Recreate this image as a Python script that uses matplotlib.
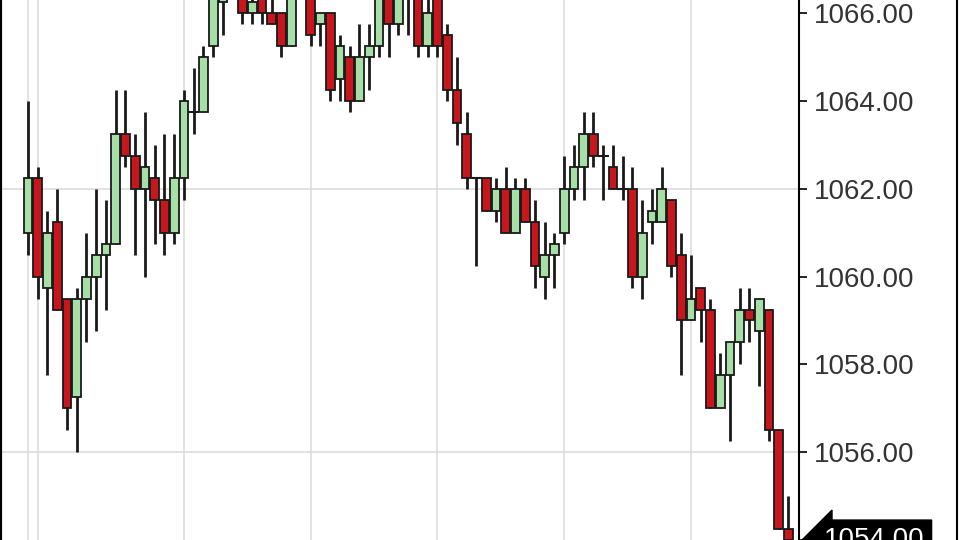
import matplotlib
matplotlib.use("Agg")
from matplotlib import pyplot as plt
from matplotlib.lines import Line2D
from matplotlib.patches import Rectangle

plt.rcParams['font.family'] = ['Liberation Sans', 'DejaVu Sans']

# OHLC values (one candle per bar, left to right)
opens = [1061.0, 1062.25, 1059.75, 1061.25, 1059.5, 1057.25, 1059.5, 1060.0, 1060.5, 1060.75,
         1063.25, 1062.75, 1062.0, 1062.25, 1061.75, 1061.0, 1062.25, 1063.75, 1063.75, 1065.25,
         1066.25, 1066.5, 1066.5, 1066.0, 1066.5, 1066.0, 1066.0, 1065.25, 1066.5, 1066.5,
         1065.75, 1066.0, 1064.5, 1065.0, 1064.0, 1065.0, 1065.25, 1066.5, 1065.75, 1066.5,
         1066.5, 1065.25, 1066.5, 1065.5, 1064.25, 1063.25, 1062.25, 1062.25, 1061.5, 1062.0,
         1061.0, 1062.0, 1061.25, 1060.0, 1060.5, 1061.0, 1062.0, 1062.5, 1063.25, 1062.75,
         1062.5, 1062.0, 1062.0, 1060.0, 1061.25, 1061.25, 1061.75, 1060.5, 1059.0, 1059.75,
         1059.25, 1057.0, 1057.75, 1058.5, 1059.25, 1058.75, 1059.25, 1056.5, 1054.25]
highs = [1064.0, 1062.5, 1061.5, 1062.0, 1059.5, 1059.75, 1061.0, 1062.0, 1061.75, 1064.25,
         1064.25, 1063.25, 1063.75, 1063.0, 1063.25, 1063.25, 1064.25, 1064.75, 1065.25, 1066.75,
         1066.75, 1067.0, 1066.75, 1066.5, 1066.75, 1066.5, 1066.0, 1066.75, 1067.0, 1066.75,
         1066.0, 1066.0, 1065.5, 1065.25, 1065.75, 1065.75, 1066.75, 1066.75, 1066.75, 1067.0,
         1066.75, 1066.5, 1066.75, 1065.75, 1065.0, 1063.75, 1062.25, 1062.25, 1062.25, 1062.5,
         1062.25, 1062.25, 1061.75, 1061.25, 1061.0, 1062.75, 1063.0, 1063.75, 1063.75, 1063.0,
         1063.0, 1062.75, 1062.5, 1061.75, 1062.0, 1062.5, 1061.75, 1061.0, 1060.5, 1059.75,
         1059.5, 1058.25, 1058.5, 1059.75, 1059.75, 1059.5, 1059.25, 1056.5, 1055.0]
lows = [1060.5, 1059.5, 1057.75, 1059.25, 1056.5, 1056.0, 1058.5, 1058.75, 1059.25, 1060.75,
        1062.5, 1060.5, 1060.0, 1060.75, 1060.5, 1060.75, 1061.75, 1063.25, 1063.75, 1065.0,
        1065.5, 1066.4, 1065.75, 1065.75, 1065.75, 1065.75, 1065.0, 1065.25, 1066.4, 1065.25,
        1065.25, 1064.0, 1064.0, 1063.75, 1064.0, 1064.25, 1065.0, 1065.0, 1065.5, 1065.5,
        1065.0, 1065.0, 1065.0, 1064.0, 1063.0, 1062.0, 1060.25, 1061.5, 1061.25, 1061.0,
        1061.0, 1061.25, 1059.75, 1059.5, 1059.75, 1060.75, 1061.75, 1061.75, 1062.5, 1061.75,
        1062.0, 1061.75, 1059.75, 1059.5, 1060.75, 1061.25, 1060.0, 1057.75, 1059.0, 1058.5,
        1057.0, 1057.0, 1056.25, 1058.0, 1058.5, 1057.5, 1056.25, 1054.25, 1053.75]
closes = [1062.25, 1060.0, 1061.0, 1059.25, 1057.0, 1059.5, 1060.0, 1060.5, 1060.75, 1063.25,
          1062.75, 1062.0, 1062.5, 1061.75, 1061.0, 1062.25, 1064.0, 1063.75, 1065.0, 1066.5,
          1066.5, 1066.75, 1066.0, 1066.25, 1066.0, 1065.75, 1065.25, 1066.5, 1066.75, 1065.5,
          1066.0, 1064.25, 1065.25, 1064.0, 1065.0, 1065.25, 1066.5, 1065.75, 1066.5, 1066.75,
          1065.25, 1066.0, 1065.25, 1064.25, 1063.5, 1062.25, 1062.25, 1061.5, 1062.0, 1061.0,
          1062.0, 1061.25, 1060.25, 1060.5, 1060.75, 1062.0, 1062.5, 1063.25, 1062.75, 1062.75,
          1062.0, 1062.0, 1060.0, 1061.0, 1061.5, 1062.0, 1060.25, 1059.0, 1059.5, 1059.25,
          1057.0, 1057.75, 1058.5, 1059.25, 1059.0, 1059.5, 1056.5, 1054.25, 1054.0]

price_ticks = [1054, 1056, 1058, 1060, 1062, 1064, 1066]
h_grid = [1056, 1062]
v_grid = [0, 1, 16, 29, 42, 55, 68]  # bar indexes of the session lines

up_color = '#a6e0a6'
down_color = '#c8161d'

fig = plt.figure(figsize=(9.6, 5.4), dpi=100)
ax = fig.add_axes([0, 0, 799 / 960, 1])

for g in h_grid:
    ax.axhline(g, color='#dddddd', lw=1.2, zorder=0)
for g in v_grid:
    ax.axvline(g, color='#dddddd', lw=1.2, zorder=0)

width = 0.88
for i in range(len(opens)):
    o, h, l, c = opens[i], highs[i], lows[i], closes[i]
    # wick
    ax.plot([i, i], [l, h], color='#1a1a1a', lw=2, zorder=2, solid_capstyle='butt')
    bottom = min(o, c)
    height = abs(c - o)
    if height == 0:
        ax.plot([i - width / 2, i + width / 2], [o, o], color='#1a1a1a', lw=1.5, zorder=3)
        continue
    col = up_color if c > o else down_color
    ax.add_patch(Rectangle((i - width / 2, bottom), width, height,
                           facecolor=col, edgecolor='#1a1a1a', lw=1.3, zorder=3))

ax.set_xlim(-2.87, 79.08)
ax.set_ylim(1054.02, 1066.3)

# price axis on the right
ax.yaxis.tick_right()
ax.set_yticks(price_ticks)
ax.set_yticklabels([f"{p:.2f}" for p in price_ticks])
ax.tick_params(axis='y', direction='out', length=6, width=1.2, colors='black',
               labelcolor='#333333', labelsize=20, pad=5)
ax.set_xticks([])

for side in ['top', 'bottom']:
    ax.spines[side].set_visible(False)
ax.spines['right'].set_color('black')
ax.spines['right'].set_linewidth(1.5)
ax.spines['left'].set_color('black')
ax.spines['left'].set_linewidth(3)

# last price marker
ax.annotate(f"{closes[-1]:.2f}", xy=(1, closes[-1]), xycoords=('axes fraction', 'data'),
            xytext=(18, 0), textcoords='offset points', ha='left', va='center',
            color='white', fontsize=20,
            bbox=dict(boxstyle='larrow,pad=0.25', fc='black', ec='black'),
            annotation_clip=False)

# outer frame line on the right
fig.add_artist(Line2D([957 / 960, 957 / 960], [0, 1], color='black', lw=1.5,
                      transform=fig.transFigure))

fig.savefig('out.png', dpi=100)
